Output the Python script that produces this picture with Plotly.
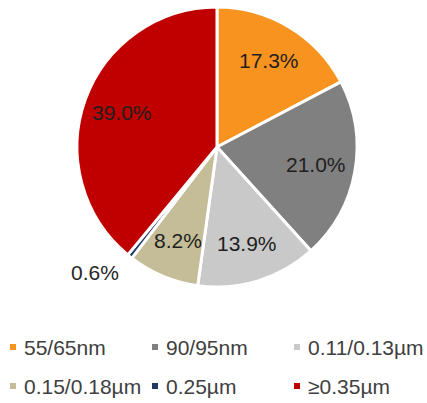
import math
import plotly.graph_objects as go

categories = ["55/65nm", "90/95nm", "0.11/0.13µm", "0.15/0.18µm", "0.25µm", "≥0.35µm"]
shares = [17.3, 21.0, 13.9, 8.2, 0.6, 39.0]
colors = ["#F7931E", "#808080", "#C9C9C9", "#C4BD97", "#1F3864", "#C00000"]

FONT = "Liberation Sans, Arial"
W, H = 427, 403
# pie placement (pixels)
PX0, PX1, PY0, PY1 = 77, 357, 7, 287
CX, CY, R = (PX0 + PX1) / 2, (PY0 + PY1) / 2, (PX1 - PX0) / 2

fig = go.Figure()
fig.add_trace(go.Pie(
    labels=categories,
    values=shares,
    sort=False,
    direction="clockwise",
    rotation=0,
    marker=dict(colors=colors, line=dict(color="white", width=3)),
    textinfo="none",
    domain=dict(x=[PX0 / W, PX1 / W], y=[1 - PY1 / H, 1 - PY0 / H]),
    showlegend=False,
    hoverinfo="label+percent",
))

# data labels placed along each slice's mid-angle (best-fit style)
total = sum(shares)
cum = 0.0
for v in shares:
    mid = (cum + v / 2) / total * 2 * math.pi
    cum += v
    small = v / total < 0.02
    r = R * (1.1 if small else 0.72)
    px = CX + r * math.sin(mid)
    py = CY - r * math.cos(mid) + (5 if small else 0)
    fig.add_annotation(xref="paper", yref="paper", x=px / W, y=1 - py / H,
                       text=f"{v:.1f}%", showarrow=False,
                       xanchor="right" if small else "center", yanchor="middle",
                       font=dict(family=FONT, size=21,
                                 color="#262626" if small else "#1F1F1F"))

# custom legend built from the arrays
col_x = [13, 155, 297]
row_y = [347, 386]
for i, (lab, c) in enumerate(zip(categories, colors)):
    lx = col_x[i % 3]
    ly = row_y[i // 3]
    fig.add_shape(type="rect", xref="paper", yref="paper",
                  x0=(lx - 3) / W, x1=(lx + 3) / W,
                  y0=1 - (ly + 3) / H, y1=1 - (ly - 3) / H,
                  fillcolor=c, line=dict(width=0))
    fig.add_annotation(xref="paper", yref="paper", x=(lx + 9) / W, y=1 - ly / H,
                       text=lab, showarrow=False, xanchor="left", yanchor="middle",
                       font=dict(family=FONT, size=21, color="#404040"))

fig.update_layout(
    width=W, height=H,
    margin=dict(l=0, r=0, t=0, b=0),
    paper_bgcolor="white", plot_bgcolor="white",
)
fig.write_html("out.html", config={"displayModeBar": False},
               post_script="document.body.style.margin='0';")
